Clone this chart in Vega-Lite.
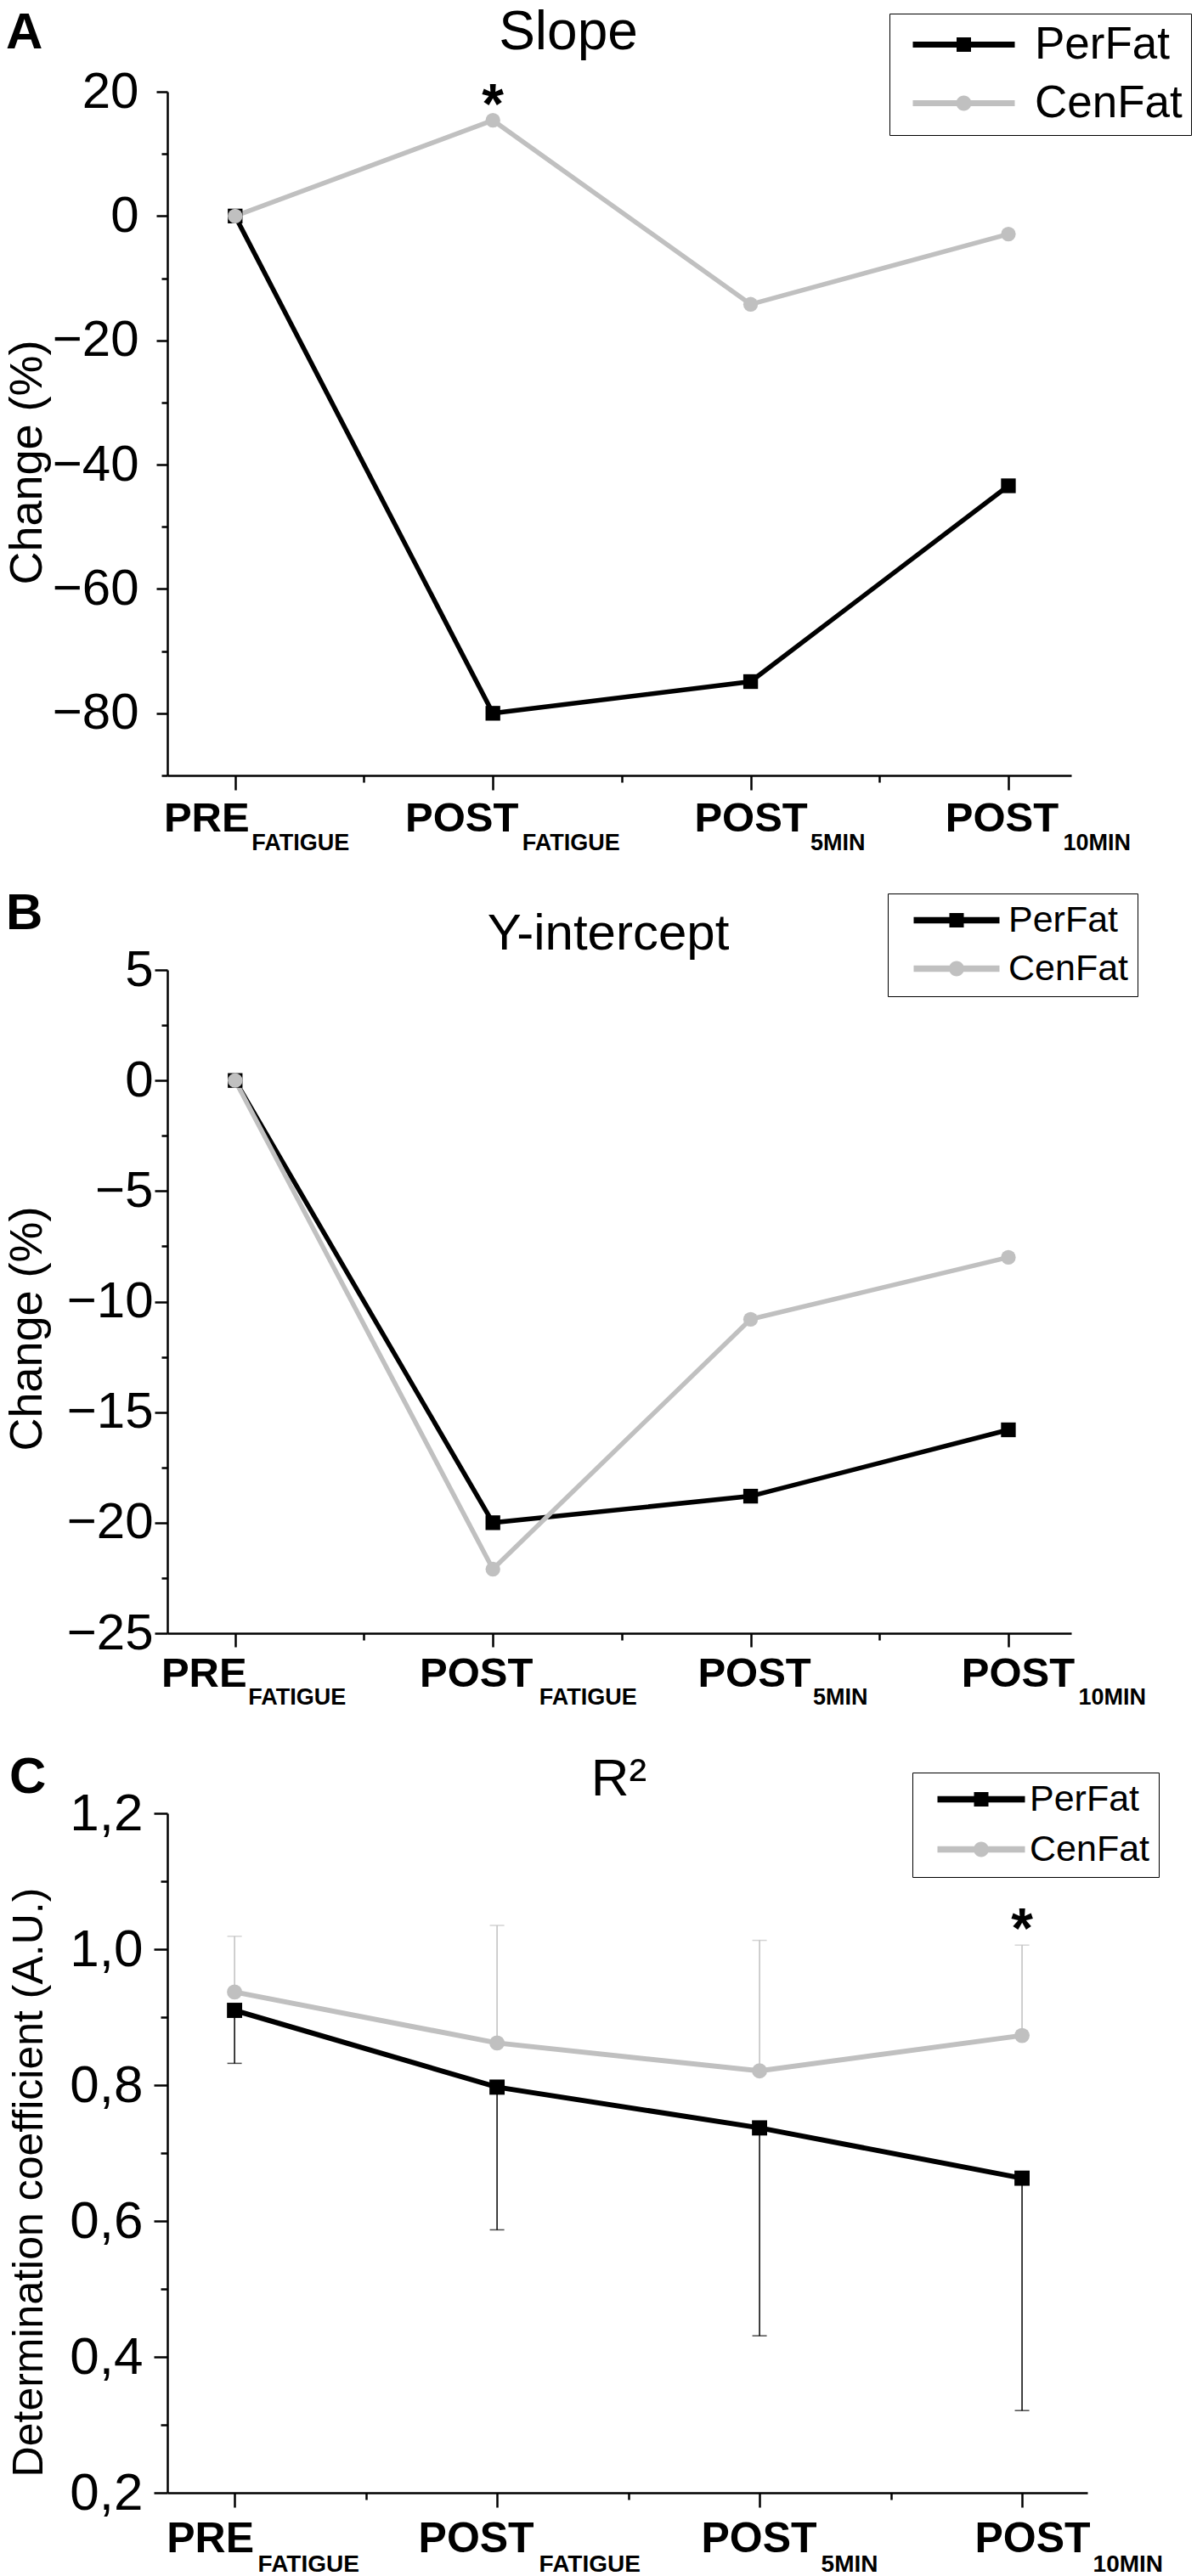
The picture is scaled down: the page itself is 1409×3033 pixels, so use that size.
{
  "$schema": "https://vega.github.io/schema/vega-lite/v6.json",
  "background": "white",
  "padding": {"left": 5, "top": 6, "right": 0, "bottom": 0},
  "spacing": 51,
  "config": {
    "view": {"stroke": null},
    "font": "Liberation Sans",
    "title": {"color": "black", "font": "Liberation Sans"},
    "axis": {"labelColor": "black", "titleColor": "black", "domainColor": "black", "tickColor": "black", "grid": false}
  },
  "resolve": {
    "scale": {"x": "independent", "y": "independent", "color": "independent"},
    "legend": {"color": "independent"}
  },
  "datasets": {
    "slope": [
      {"t": 1, "g": "PerFat", "v": 0},
      {"t": 2, "g": "PerFat", "v": -80},
      {"t": 3, "g": "PerFat", "v": -74.9},
      {"t": 4, "g": "PerFat", "v": -43.4},
      {"t": 1, "g": "CenFat", "v": 0},
      {"t": 2, "g": "CenFat", "v": 15.4, "star": true},
      {"t": 3, "g": "CenFat", "v": -14.2},
      {"t": 4, "g": "CenFat", "v": -2.9}
    ],
    "yint": [
      {"t": 1, "g": "PerFat", "v": 0},
      {"t": 2, "g": "PerFat", "v": -20},
      {"t": 3, "g": "PerFat", "v": -18.8},
      {"t": 4, "g": "PerFat", "v": -15.8},
      {"t": 1, "g": "CenFat", "v": 0},
      {"t": 2, "g": "CenFat", "v": -22.1},
      {"t": 3, "g": "CenFat", "v": -10.8},
      {"t": 4, "g": "CenFat", "v": -8.0}
    ],
    "r2": [
      {"t": 1, "g": "PerFat", "v": 0.91, "e": 0.832},
      {"t": 2, "g": "PerFat", "v": 0.797, "e": 0.587},
      {"t": 3, "g": "PerFat", "v": 0.737, "e": 0.431},
      {"t": 4, "g": "PerFat", "v": 0.663, "e": 0.321},
      {"t": 1, "g": "CenFat", "v": 0.937, "e": 1.019},
      {"t": 2, "g": "CenFat", "v": 0.862, "e": 1.035},
      {"t": 3, "g": "CenFat", "v": 0.821, "e": 1.013},
      {"t": 4, "g": "CenFat", "v": 0.873, "e": 1.006, "star": true}
    ]
  },
  "vconcat": [
    {
      "spacing": 40,
      "resolve": {
        "scale": {"x": "independent", "y": "independent", "color": "independent"},
        "legend": {"color": "independent"}
      },
      "vconcat": [
        {
          "title": {"text": "A", "anchor": "start", "frame": "bounds", "fontSize": 60, "fontWeight": "bold", "offset": -63, "dx": 2},
          "resolve": {
            "scale": {"x": "independent", "y": "independent", "color": "independent"},
            "legend": {"color": "independent"}
          },
          "vconcat": [
            {
              "width": 1064,
              "height": 805,
              "title": {"text": "Slope", "fontSize": 64, "fontWeight": "normal", "frame": "group", "anchor": "middle", "dx": -60, "offset": -106, "baseline": "alphabetic"},
              "data": {"name": "slope"},
              "encoding": {
                "x": {
                  "field": "t", "type": "quantitative",
                  "scale": {"domain": [0.737, 4.244], "nice": false, "zero": false},
                  "axis": {
                    "values": [1, 1.5, 2, 2.5, 3, 3.5, 4], "title": null,
                    "domainWidth": 2.5, "tickWidth": 2.5,
                    "tickSize": {"condition": {"test": "datum.value % 1 == 0", "value": 17}, "value": 8},
                    "labelExpr": "datum.value == 1 ? 'PRE' : (datum.value % 1 == 0 ? 'POST' : '')",
                    "labelFont": "Liberation Sans", "labelFontSize": 49, "labelFontWeight": "bold",
                    "labelBaseline": "alphabetic", "labelPadding": 48,
                    "labelOverlap": false, "labelFlush": false, "labelBound": false,
                    "labelOffset": {"condition": [{"test": "datum.value == 1", "value": -34}, {"test": "datum.value == 2", "value": -37}, {"test": "datum.value == 4", "value": -8}], "value": 0}
                  }
                },
                "y": {
                  "field": "v", "type": "quantitative",
                  "scale": {"domain": [-90, 20], "nice": false, "zero": false},
                  "axis": {
                    "values": [-90, -80, -70, -60, -50, -40, -30, -20, -10, 0, 10, 20],
                    "title": "Change (%)", "titleFontSize": 54, "titleFontWeight": "normal", "titleX": -138, "titleY": 436,
                    "domainWidth": 2.5, "tickWidth": 2.5,
                    "tickSize": {"condition": {"test": "datum.value % 20 == 0", "value": 13}, "value": 7},
                    "labelExpr": "datum.value % 20 == 0 ? datum.label : ''",
                    "labelFontSize": 60, "labelPadding": 21, "labelOverlap": false, "labelFlush": false
                  }
                },
                "color": {
                  "field": "g", "type": "nominal",
                  "scale": {"domain": ["PerFat", "CenFat"], "range": ["#000000", "#c0c0c0"]},
                  "legend": {
                    "title": null, "orient": "none", "legendX": 850, "legendY": -92,
                    "strokeColor": "black", "padding": 10, "rowPadding": 15,
                    "symbolSize": 400, "labelOffset": 108, "labelLimit": 500,
                    "labelFont": "Liberation Sans", "labelFontSize": 53, "labelColor": "black",
                    "encode": {
                      "symbols": {
                        "update": {
                          "shape": [
                            {"test": "datum.value === 'PerFat'", "value": "M-0.9,-0.35H4.25V-0.85H5.95V-0.35H11.1V0.35H5.95V0.85H4.25V0.35H-0.9Z"},
                            {"value": "M-0.9,-0.35H11.1V0.35H-0.9Z M6,0A0.9,0.9 0 1,1 4.2,0A0.9,0.9 0 1,1 6,0Z"}
                          ],
                          "fill": [{"test": "datum.value === 'PerFat'", "value": "#000000"}, {"value": "#c0c0c0"}],
                          "stroke": {"value": "transparent"},
                          "strokeWidth": {"value": 0},
                          "opacity": {"value": 1}
                        }
                      }
                    }
                  }
                }
              },
              "layer": [
                {
                  "layer": [
                    {"mark": {"type": "line", "strokeWidth": 5.5}},
                    {
                      "mark": {"type": "point", "filled": true, "opacity": 1, "size": 300},
                      "encoding": {"shape": {"condition": {"test": "datum.g === 'PerFat'", "value": "square"}, "value": "circle"}}
                    },
                    {
                      "transform": [{"filter": "datum.star"}],
                      "mark": {"type": "text", "text": "*", "fontSize": 66, "fontWeight": "bold", "baseline": "alphabetic", "dy": 3},
                      "encoding": {"color": {"value": "black"}}
                    }
                  ]
                },
                {
                  "mark": {"type": "point", "opacity": 0},
                  "encoding": {
                    "x": {
                      "field": "t", "type": "quantitative",
                      "axis": {
                        "orient": "bottom", "values": [1, 2, 3, 4], "title": null, "domain": false, "ticks": false,
                        "labelExpr": "datum.value <= 2 ? 'FATIGUE' : (datum.value == 3 ? '5MIN' : '10MIN')",
                        "labelFont": "Liberation Sans", "labelFontSize": 27, "labelFontWeight": "bold",
                        "labelAlign": "left", "labelBaseline": "alphabetic", "labelPadding": 87,
                        "labelOverlap": false, "labelFlush": false, "labelBound": false,
                        "labelOffset": {"condition": [{"test": "datum.value == 1", "value": 19}, {"test": "datum.value == 2", "value": 34}, {"test": "datum.value == 3", "value": 70}], "value": 64}
                      }
                    }
                  }
                }
              ],
              "resolve": {"axis": {"x": "independent"}}
            }
          ]
        },
        {
          "title": {"text": "B", "anchor": "start", "frame": "bounds", "fontSize": 60, "fontWeight": "bold", "offset": -55, "dx": 2},
          "resolve": {
            "scale": {"x": "independent", "y": "independent", "color": "independent"},
            "legend": {"color": "independent"}
          },
          "vconcat": [
            {
              "width": 1064,
              "height": 781,
              "title": {"text": "Y-intercept", "fontSize": 60, "fontWeight": "normal", "frame": "group", "anchor": "middle", "dx": -13, "offset": -126, "baseline": "alphabetic"},
              "data": {"name": "yint"},
              "encoding": {
                "x": {
                  "field": "t", "type": "quantitative",
                  "scale": {"domain": [0.737, 4.244], "nice": false, "zero": false},
                  "axis": {
                    "values": [1, 1.5, 2, 2.5, 3, 3.5, 4], "title": null,
                    "domainWidth": 2.5, "tickWidth": 2.5,
                    "tickSize": {"condition": {"test": "datum.value % 1 == 0", "value": 16}, "value": 8},
                    "labelExpr": "datum.value == 1 ? 'PRE' : (datum.value % 1 == 0 ? 'POST' : '')",
                    "labelFont": "Liberation Sans", "labelFontSize": 49, "labelFontWeight": "bold",
                    "labelBaseline": "alphabetic", "labelPadding": 46,
                    "labelOverlap": false, "labelFlush": false, "labelBound": false,
                    "labelOffset": {"condition": [{"test": "datum.value == 1", "value": -37}, {"test": "datum.value == 2", "value": -20}, {"test": "datum.value == 3", "value": 4}], "value": 11}
                  }
                },
                "y": {
                  "field": "v", "type": "quantitative",
                  "scale": {"domain": [-25, 5], "nice": false, "zero": false},
                  "axis": {
                    "values": [-25, -22.5, -20, -17.5, -15, -12.5, -10, -7.5, -5, -2.5, 0, 2.5, 5],
                    "title": "Change (%)", "titleFontSize": 54, "titleFontWeight": "normal", "titleX": -138, "titleY": 422,
                    "domainWidth": 2.5, "tickWidth": 2.5,
                    "tickSize": {"condition": {"test": "datum.value % 5 == 0", "value": 15}, "value": 7},
                    "labelExpr": "datum.value % 5 == 0 ? datum.label : ''",
                    "labelFontSize": 60, "labelPadding": 2, "labelOverlap": false, "labelFlush": false
                  }
                },
                "color": {
                  "field": "g", "type": "nominal",
                  "scale": {"domain": ["PerFat", "CenFat"], "range": ["#000000", "#c0c0c0"]},
                  "legend": {
                    "title": null, "orient": "none", "legendX": 848, "legendY": -90,
                    "strokeColor": "black", "padding": 10, "rowPadding": 13,
                    "symbolSize": 400, "labelOffset": 89, "labelLimit": 500,
                    "labelFont": "Liberation Sans", "labelFontSize": 43, "labelColor": "black",
                    "encode": {
                      "symbols": {
                        "update": {
                          "shape": [
                            {"test": "datum.value === 'PerFat'", "value": "M-0.1,-0.38H4.1V-0.85H5.8V-0.38H10V0.38H5.8V0.85H4.1V0.38H-0.1Z"},
                            {"value": "M-0.1,-0.38H10V0.38H-0.1Z M5.85,0A0.9,0.9 0 1,1 4.05,0A0.9,0.9 0 1,1 5.85,0Z"}
                          ],
                          "fill": [{"test": "datum.value === 'PerFat'", "value": "#000000"}, {"value": "#c0c0c0"}],
                          "stroke": {"value": "transparent"},
                          "strokeWidth": {"value": 0},
                          "opacity": {"value": 1}
                        }
                      }
                    }
                  }
                }
              },
              "layer": [
                {
                  "layer": [
                    {"mark": {"type": "line", "strokeWidth": 5.5}},
                    {
                      "mark": {"type": "point", "filled": true, "opacity": 1, "size": 300},
                      "encoding": {"shape": {"condition": {"test": "datum.g === 'PerFat'", "value": "square"}, "value": "circle"}}
                    }
                  ]
                },
                {
                  "mark": {"type": "point", "opacity": 0},
                  "encoding": {
                    "x": {
                      "field": "t", "type": "quantitative",
                      "axis": {
                        "orient": "bottom", "values": [1, 2, 3, 4], "title": null, "domain": false, "ticks": false,
                        "labelExpr": "datum.value <= 2 ? 'FATIGUE' : (datum.value == 3 ? '5MIN' : '10MIN')",
                        "labelFont": "Liberation Sans", "labelFontSize": 27, "labelFontWeight": "bold",
                        "labelAlign": "left", "labelBaseline": "alphabetic", "labelPadding": 83,
                        "labelOverlap": false, "labelFlush": false, "labelBound": false,
                        "labelOffset": {"condition": [{"test": "datum.value == 1", "value": 15}, {"test": "datum.value == 2", "value": 54}, {"test": "datum.value == 3", "value": 73}], "value": 82}
                      }
                    }
                  }
                }
              ],
              "resolve": {"axis": {"x": "independent"}}
            }
          ]
        }
      ]
    },
    {
      "title": {"text": "C", "anchor": "start", "frame": "bounds", "fontSize": 60, "fontWeight": "bold", "offset": -60, "dx": 2},
      "resolve": {
        "scale": {"x": "independent", "y": "independent", "color": "independent"},
        "legend": {"color": "independent"}
      },
      "vconcat": [
        {
          "width": 1083,
          "height": 800,
          "title": {"text": "R²", "fontSize": 62, "fontWeight": "normal", "frame": "group", "anchor": "middle", "dx": -10, "offset": -89, "baseline": "alphabetic"},
          "data": {"name": "r2"},
          "encoding": {
            "x": {
              "field": "t", "type": "quantitative",
              "scale": {"domain": [0.744, 4.249], "nice": false, "zero": false},
              "axis": {
                "values": [1, 1.5, 2, 2.5, 3, 3.5, 4], "title": null,
                "domainWidth": 2.5, "tickWidth": 2.5,
                "tickSize": {"condition": {"test": "datum.value % 1 == 0", "value": 17}, "value": 8},
                "labelExpr": "datum.value == 1 ? 'PRE' : (datum.value % 1 == 0 ? 'POST' : '')",
                "labelFont": "Liberation Sans", "labelFontSize": 50, "labelFontWeight": "bold",
                "labelBaseline": "alphabetic", "labelPadding": 52,
                "labelOverlap": false, "labelFlush": false, "labelBound": false,
                "labelOffset": {"condition": [{"test": "datum.value == 1", "value": -29}, {"test": "datum.value == 2", "value": -25}, {"test": "datum.value == 3", "value": -1}], "value": 12}
              }
            },
            "y": {
              "field": "v", "type": "quantitative",
              "scale": {"domain": [0.2, 1.2], "nice": false, "zero": false},
              "axis": {
                "values": [0.2, 0.3, 0.4, 0.5, 0.6, 0.7, 0.8, 0.9, 1.0, 1.1, 1.2],
                "title": "Determination coefficient (A.U.)", "titleFontSize": 50, "titleFontWeight": "normal", "titleX": -138, "titleY": 434,
                "domainWidth": 2.5, "tickWidth": 2.5,
                "tickSize": {"condition": {"test": "round(datum.value * 10) % 2 == 0", "value": 16}, "value": 8},
                "labelExpr": "round(datum.value * 10) % 2 == 0 ? replace(format(datum.value, '.1f'), '.', ',') : ''",
                "labelFontSize": 62, "labelPadding": 13, "labelOverlap": false, "labelFlush": false
              }
            },
            "color": {
              "field": "g", "type": "nominal",
              "scale": {"domain": ["PerFat", "CenFat"], "range": ["#000000", "#c0c0c0"]},
              "legend": {
                "title": null, "orient": "none", "legendX": 877, "legendY": -48,
                "strokeColor": "black", "padding": 10, "rowPadding": 15,
                "symbolSize": 400, "labelOffset": 85, "labelLimit": 500,
                "labelFont": "Liberation Sans", "labelFontSize": 43, "labelColor": "black",
                "encode": {
                  "symbols": {
                    "update": {
                      "shape": [
                        {"test": "datum.value === 'PerFat'", "value": "M-0.2,-0.38H4.1V-0.85H5.8V-0.38H10.1V0.38H5.8V0.85H4.1V0.38H-0.2Z"},
                        {"value": "M-0.2,-0.38H10.1V0.38H-0.2Z M5.85,0A0.9,0.9 0 1,1 4.05,0A0.9,0.9 0 1,1 5.85,0Z"}
                      ],
                      "fill": [{"test": "datum.value === 'PerFat'", "value": "#000000"}, {"value": "#c0c0c0"}],
                      "stroke": {"value": "transparent"},
                      "strokeWidth": {"value": 0},
                      "opacity": {"value": 1}
                    }
                  }
                }
              }
            }
          },
          "layer": [
            {
              "layer": [
                {"mark": {"type": "rule", "strokeWidth": 1.5}, "encoding": {"y2": {"field": "e"}}},
                {"mark": {"type": "tick", "orient": "horizontal", "size": 17, "thickness": 1.5}, "encoding": {"y": {"field": "e", "type": "quantitative"}}},
                {"mark": {"type": "line", "strokeWidth": 6}},
                {
                  "mark": {"type": "point", "filled": true, "opacity": 1, "size": 320},
                  "encoding": {"shape": {"condition": {"test": "datum.g === 'PerFat'", "value": "square"}, "value": "circle"}}
                },
                {
                  "transform": [{"filter": "datum.star"}],
                  "mark": {"type": "text", "text": "*", "fontSize": 66, "fontWeight": "bold", "baseline": "alphabetic", "dy": 3},
                  "encoding": {"y": {"field": "e", "type": "quantitative"}, "color": {"value": "black"}}
                }
              ]
            },
            {
              "mark": {"type": "point", "opacity": 0},
              "encoding": {
                "x": {
                  "field": "t", "type": "quantitative",
                  "axis": {
                    "orient": "bottom", "values": [1, 2, 3, 4], "title": null, "domain": false, "ticks": false,
                    "labelExpr": "datum.value <= 2 ? 'FATIGUE' : (datum.value == 3 ? '5MIN' : '10MIN')",
                    "labelFont": "Liberation Sans", "labelFontSize": 28, "labelFontWeight": "bold",
                    "labelAlign": "left", "labelBaseline": "alphabetic", "labelPadding": 92,
                    "labelOverlap": false, "labelFlush": false, "labelBound": false,
                    "labelOffset": {"condition": [{"test": "datum.value == 1", "value": 27}, {"test": "datum.value == 2", "value": 49}, {"test": "datum.value == 3", "value": 72}], "value": 83}
                  }
                }
              }
            }
          ],
          "resolve": {"axis": {"x": "independent"}}
        }
      ]
    }
  ]
}
